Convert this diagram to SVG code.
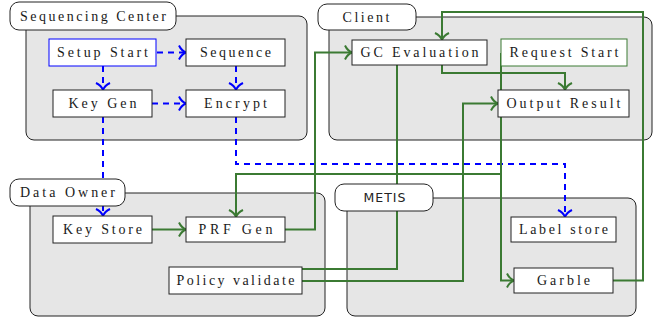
<svg xmlns="http://www.w3.org/2000/svg" width="653" height="320" viewBox="0 0 653 320">
<style>
.cont{fill:#e6e6e6;stroke:#222;stroke-width:1}
.pill{fill:#fff;stroke:#222;stroke-width:1}
.box{fill:#fff;stroke:#222;stroke-width:1}
.t{font-family:"Liberation Serif","DejaVu Serif",serif;font-size:14px;fill:#1a1a1a;text-anchor:middle}
.s{font-family:"DejaVu Sans","Liberation Sans",sans-serif;font-size:12.5px;fill:#222;text-anchor:middle}
.bl{fill:none;stroke:#0000ff;stroke-width:2;stroke-dasharray:6 5}
.gr{fill:none;stroke:#3b7a33;stroke-width:2}
</style>
<defs>
<marker id="ab" markerUnits="userSpaceOnUse" markerWidth="16" markerHeight="18" viewBox="-9 -9 11 18" refX="0" refY="0" orient="auto">
<path d="M-7,-7 C-5,-2.8 -1.6,-0.6 0,0 C-1.6,0.6 -5,2.8 -7,7" fill="none" stroke="#0000ff" stroke-width="2"/>
</marker>
<marker id="ag" markerUnits="userSpaceOnUse" markerWidth="16" markerHeight="18" viewBox="-9 -9 11 18" refX="0" refY="0" orient="auto">
<path d="M-7,-7 C-5,-2.8 -1.6,-0.6 0,0 C-1.6,0.6 -5,2.8 -7,7" fill="none" stroke="#3b7a33" stroke-width="2"/>
</marker>
</defs>

<g id="sequencing-center-area"><rect class="cont" x="26" y="16" width="281" height="124" rx="8"/></g>
<g id="client-area"><rect class="cont" x="329" y="17" width="323" height="123" rx="8"/></g>
<g id="data-owner-area"><rect class="cont" x="30" y="193" width="295" height="123" rx="8"/></g>
<g id="metis-area"><rect class="cont" x="347" y="198" width="289" height="118" rx="8"/></g>

<g id="connectors">
<path class="bl" d="M157,52.5 H186" marker-end="url(#ab)"/>
<path class="bl" d="M103,66 V90" marker-end="url(#ab)"/>
<path class="bl" d="M236,66 V90" marker-end="url(#ab)"/>
<path class="bl" d="M152,103.5 H186" marker-end="url(#ab)"/>
<path class="bl" d="M103,117 V216" marker-end="url(#ab)"/>
<path class="bl" d="M236,117 V164 H565 V217" marker-end="url(#ab)"/>
<path class="gr" d="M152,229.5 H186" marker-end="url(#ag)"/>
<path class="gr" d="M285,229.5 H315 V52.5 H352" marker-end="url(#ag)"/>
<path class="gr" d="M613,280.5 H643 V12 H442 V40" marker-end="url(#ag)"/>
<path class="gr" d="M442,65 V73 H565 V90" marker-end="url(#ag)"/>
<path class="gr" d="M302,269 H397 V65"/>
<path class="gr" d="M302,281 H463 V103.5 H498" marker-end="url(#ag)"/>
<path class="gr" d="M501,53 V280.5 H514" marker-end="url(#ag)"/>
<path class="gr" d="M501,174 H236 V217" marker-end="url(#ag)"/>
</g>

<g id="sequencing-center-label"><rect class="pill" x="10" y="2" width="166" height="28" rx="9"/><text class="t" x="93" y="20.5" textLength="146" lengthAdjust="spacing">Sequencing Center</text></g>
<g id="client-label"><rect class="pill" x="318" y="4" width="98" height="26" rx="9"/><text class="t" x="366" y="21.5" textLength="47" lengthAdjust="spacing">Client</text></g>
<g id="data-owner-label"><rect class="pill" x="10" y="179" width="115" height="27" rx="9"/><text class="t" x="67.5" y="197" textLength="95" lengthAdjust="spacing">Data Owner</text></g>
<g id="metis-label"><rect class="pill" x="335" y="184" width="98" height="27" rx="9"/><text class="s" x="384.5" y="202" textLength="42" lengthAdjust="spacing">METIS</text></g>

<g id="setup-start"><rect class="box" x="49" y="39" width="107" height="27" style="stroke:#0000ff"/><text class="t" x="102.5" y="57" textLength="91" lengthAdjust="spacing">Setup Start</text></g>
<g id="sequence"><rect class="box" x="186" y="39" width="99" height="27"/><text class="t" x="235.5" y="57" textLength="71" lengthAdjust="spacing">Sequence</text></g>
<g id="key-gen"><rect class="box" x="53" y="90" width="99" height="27"/><text class="t" x="102.5" y="108" textLength="68" lengthAdjust="spacing">Key Gen</text></g>
<g id="encrypt"><rect class="box" x="186" y="90" width="99" height="27"/><text class="t" x="235.5" y="108" textLength="63" lengthAdjust="spacing">Encrypt</text></g>
<g id="gc-evaluation"><rect class="box" x="352" y="40" width="135" height="25"/><text class="t" x="419.5" y="57" textLength="118" lengthAdjust="spacing">GC Evaluation</text></g>
<g id="request-start"><rect class="box" x="501" y="39" width="126" height="27" style="stroke:#3b7a33"/><text class="t" x="564" y="57" textLength="109" lengthAdjust="spacing">Request Start</text></g>
<g id="output-result"><rect class="box" x="498" y="90" width="131" height="27"/><text class="t" x="563.5" y="108" textLength="114" lengthAdjust="spacing">Output Result</text></g>
<g id="key-store"><rect class="box" x="53" y="216" width="99" height="27"/><text class="t" x="102.5" y="234" textLength="79" lengthAdjust="spacing">Key Store</text></g>
<g id="prf-gen"><rect class="box" x="186" y="217" width="99" height="25"/><text class="t" x="235.5" y="234" textLength="74" lengthAdjust="spacing">PRF Gen</text></g>
<g id="policy-validate"><rect class="box" x="169" y="267" width="133" height="27"/><text class="t" x="235.5" y="285" textLength="118" lengthAdjust="spacing">Policy validate</text></g>
<g id="label-store"><rect class="box" x="511" y="217" width="105" height="25"/><text class="t" x="563.5" y="234" textLength="89" lengthAdjust="spacing">Label store</text></g>
<g id="garble"><rect class="box" x="514" y="268" width="99" height="25"/><text class="t" x="563.5" y="285" textLength="53" lengthAdjust="spacing">Garble</text></g>
</svg>
